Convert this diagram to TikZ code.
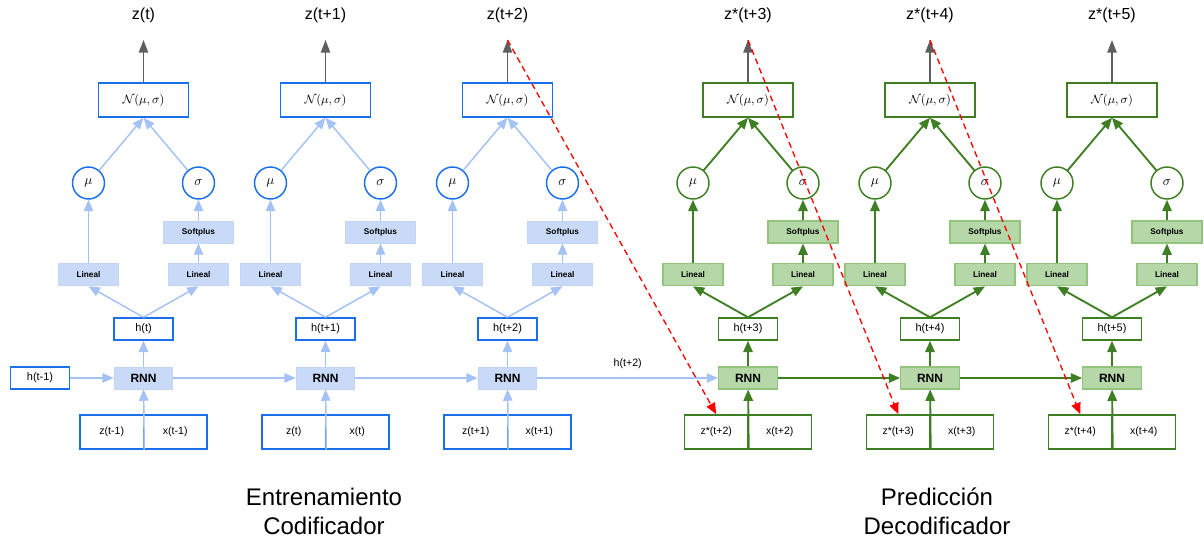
\documentclass[tikz,border=0pt]{standalone}
\usepackage{amsmath}
\usepackage{fontspec}
\setmainfont{Liberation Sans}
\usetikzlibrary{arrows.meta}
\definecolor{encline}{HTML}{1A6FEA}
\definecolor{encfill}{HTML}{C9DAF8}
\definecolor{encarrow}{HTML}{A4C2F4}
\definecolor{decline}{HTML}{3F7F24}
\definecolor{decfill}{HTML}{B6D7A8}
\definecolor{decedge}{HTML}{93C47D}
\definecolor{outgray}{HTML}{5F5F5F}

\begin{document}
\begin{tikzpicture}[x=0.75pt, y=-0.75pt,
  enc box/.style={draw=encline, line width=1.1pt, fill=white, inner sep=0},
  dec box/.style={draw=decline, line width=1.1pt, fill=white, inner sep=0},
  enc fbox/.style={draw=encfill!80!encarrow, line width=0.6pt, fill=encfill, inner sep=0},
  dec fbox/.style={draw=decedge, line width=0.8pt, fill=decfill, inner sep=0},
  enc circ/.style={enc box, circle, minimum size=24pt},
  dec circ/.style={dec box, circle, minimum size=24pt},
  enc arrow/.style={draw=encarrow, line width=1.1pt, -{Triangle[length=8.5pt,width=7pt]}},
  dec arrow/.style={draw=decline, line width=1.4pt, -{Triangle[length=8.5pt,width=7pt]}},
  outarrow/.style={draw=outgray, line width=1.1pt, -{Triangle[length=9.5pt,width=7pt]}},
  pred/.style={draw=red, line width=1pt, dash pattern=on 4.5pt off 3pt, -{Triangle[length=8.5pt,width=7pt]}},
  nbox/.style={minimum width=67.5pt, minimum height=25.5pt, font=\fontsize{9.5}{11}\selectfont},
  hbox/.style={minimum width=44pt, minimum height=16.5pt, font=\fontsize{8.2}{9}\selectfont},
  inbox/.style={minimum width=47.6pt, minimum height=25.5pt, font=\fontsize{7.9}{9}\selectfont},
  lin/.style={minimum width=45pt, minimum height=17pt, font=\fontsize{6.2}{7}\selectfont\bfseries},
  sp/.style={minimum width=52.5pt, minimum height=16.5pt, font=\fontsize{6.2}{7}\selectfont\bfseries},
  rnn/.style={minimum width=44pt, minimum height=16.5pt, font=\fontsize{9}{10}\selectfont\bfseries},
  toplabel/.style={font=\fontsize{12}{14}\selectfont},
  caption/.style={align=center, font=\fontsize{18}{21.75}\selectfont}]
\useasboundingbox (0,0) rectangle (1204,540);
\newcommand{\stage}[7]{
  \node[#3 box, nbox] (#1N) at (#2,100) {$\mathcal{N}(\mu,\sigma)$};
  \coordinate (#1tip) at (#2,40);
  \node[toplabel] (#1z) at (#2,15) {#4};
  \node[#3 circ] (#1mu) at ({#2-55},183) {$\mu$};
  \node[#3 circ] (#1sg) at ({#2+55},183) {$\sigma$};
  \node[#3 fbox, sp] (#1sp) at ({#2+55},232) {Softplus};
  \node[#3 fbox, lin] (#1linl) at ({#2-55},274.5) {Lineal};
  \node[#3 fbox, lin] (#1linr) at ({#2+55},274.5) {Lineal};
  \node[#3 box, hbox] (#1h) at (#2,329) {#5};
  \node[#3 fbox, rnn] (#1rnn) at (#2,378) {RNN};
  \node[#3 box, inbox] (#1zl) at ({#2-31.75},432) {#6};
  \node[#3 box, inbox] (#1xr) at ({#2+31.75},432) {#7};
  \draw[outarrow] (#1N) -- (#1tip);
  \draw[#3 arrow] (#1mu) -- (#1N.south);
  \draw[#3 arrow] (#1sg) -- (#1N.south);
  \draw[#3 arrow] (#1linl) -- (#1mu);
  \draw[#3 arrow] (#1sp) -- (#1sg);
  \draw[#3 arrow] (#1linr) -- (#1sp);
  \draw[#3 arrow] (#1h.north) -- (#1linl.south);
  \draw[#3 arrow] (#1h.north) -- (#1linr.south);
  \draw[#3 arrow] (#1rnn) -- (#1h);
  \draw[#3 arrow] (#1zl.south east) -- (#1rnn);
}
\stage{a}{143.5}{enc}{z(t)}{h(t)}{z(t-1)}{x(t-1)}
\stage{b}{325.5}{enc}{z(t+1)}{h(t+1)}{z(t)}{x(t)}
\stage{c}{507.5}{enc}{z(t+2)}{h(t+2)}{z(t+1)}{x(t+1)}
\stage{d}{748}{dec}{z*(t+3)}{h(t+3)}{z*(t+2)}{x(t+2)}
\stage{e}{930}{dec}{z*(t+4)}{h(t+4)}{z*(t+3)}{x(t+3)}
\stage{f}{1112}{dec}{z*(t+5)}{h(t+5)}{z*(t+4)}{x(t+4)}
\node[enc box, hbox] (h0) at (40,378) {h(t-1)};
\draw[enc arrow] (h0) -- (arnn);
\draw[enc arrow] (arnn) -- (brnn);
\draw[enc arrow] (brnn) -- (crnn);
\draw[enc arrow] (crnn) -- node (hcarry) [above=3pt, font=\fontsize{8}{9}\selectfont] {h(t+2)} (drnn);
\draw[dec arrow] (drnn) -- (ernn);
\draw[dec arrow] (ernn) -- (frnn);
\draw[pred] (ctip) -- (dzl.north);
\draw[pred] (dtip) -- (ezl.north);
\draw[pred] (etip) -- (fzl.north);
\node[caption] (train) at (324,511) {Entrenamiento\\Codificador};
\node[caption] (predict) at (937,511) {Predicción\\Decodificador};
\end{tikzpicture}
\end{document}
